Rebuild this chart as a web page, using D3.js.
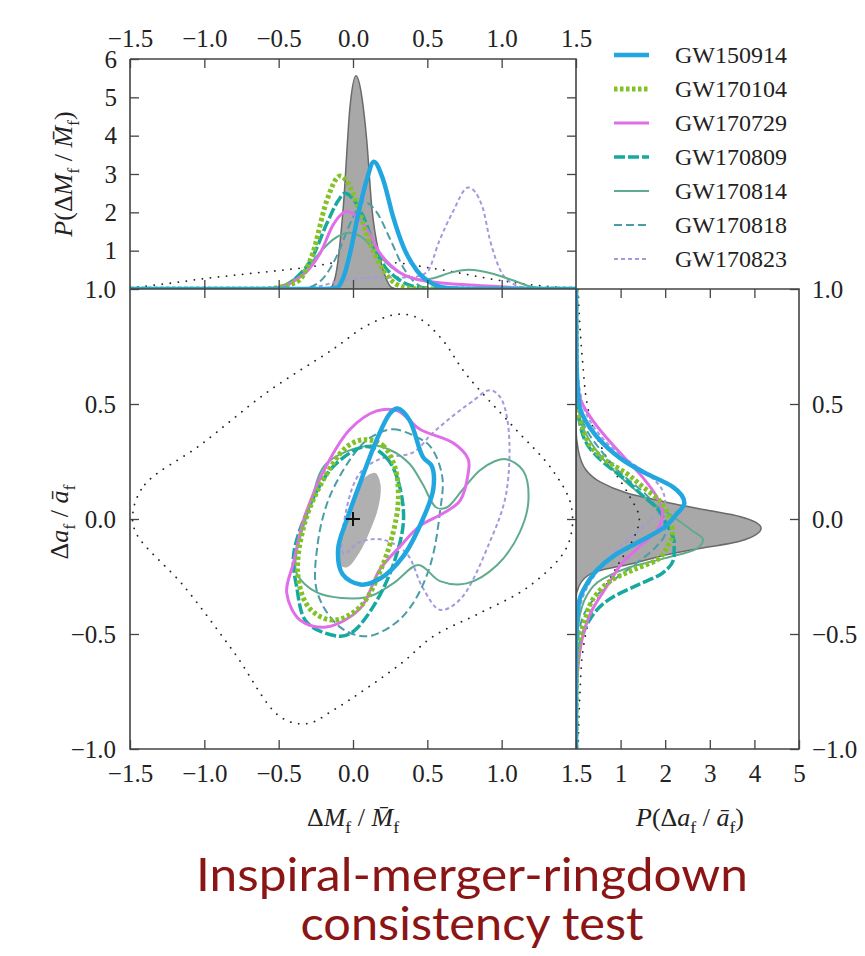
<!DOCTYPE html>
<html>
<head>
<meta charset="utf-8">
<script src="https://cdn.jsdelivr.net/npm/d3@7/dist/d3.min.js"></script>
<style>
  body { margin: 0; background: #fff; }
  svg { display: block; }
  .tick text { font-family: "Liberation Serif", "Times New Roman", Times, serif; font-size: 25px; fill: #222; }
  .tick line { stroke: #444; stroke-width: 1.3; }
</style>
</head>
<body>
<svg id="chart"></svg>
<script>
// ---------------- data ----------------
const events = ["GW150914", "GW170104", "GW170729", "GW170809", "GW170814", "GW170818", "GW170823"];

const xTicks = [-1.5, -1.0, -0.5, 0.0, 0.5, 1.0, 1.5];
const aTicks = [1.0, 0.5, 0.0, -0.5, -1.0];
const pTopTicks = [1, 2, 3, 4, 5, 6];
const pRightTicks = [1, 2, 3, 4, 5];

// top marginal: [dM/M, P]
const massPrior = [[-1.5,0.03],[-1.25,0.14],[-1.0,0.27],[-0.75,0.38],[-0.5,0.48],[-0.3,0.57],[-0.1,0.69],[0.1,0.71],[0.3,0.68],[0.5,0.56],[0.7,0.43],[0.9,0.28],[1.1,0.16],[1.3,0.07],[1.5,0.02]];
const massCombined = [[-1.5,0],[-0.16,0],[-0.12,0.3],[-0.065,2.15],[-0.02,4.76],[0.02,5.56],[0.06,5.0],[0.092,3.9],[0.126,2.15],[0.18,0.84],[0.22,0.3],[0.26,0.04],[0.3,0],[1.5,0]];
const mass150914 = [[-1.5,0],[-0.2,0],[-0.11,0.03],[-0.06,0.35],[-0.02,0.93],[0.036,1.97],[0.092,2.84],[0.14,3.32],[0.204,2.84],[0.27,1.88],[0.34,1.09],[0.43,0.48],[0.54,0.13],[0.65,0.02],[0.8,0],[1.5,0]];
const mass170104 = [[-1.5,0],[-0.6,0],[-0.5,0.04],[-0.42,0.12],[-0.356,0.25],[-0.27,0.94],[-0.177,2.3],[-0.087,2.95],[0.0,2.5],[0.09,1.45],[0.18,0.65],[0.29,0.13],[0.38,0.02],[0.5,0],[1.5,0]];
const mass170729 = [[-1.5,0],[-0.6,0],[-0.48,0.05],[-0.38,0.25],[-0.3,0.5],[-0.22,0.94],[-0.13,1.7],[-0.04,2.02],[0.07,1.7],[0.18,0.94],[0.32,0.42],[0.5,0.2],[0.76,0.11],[0.99,0.06],[1.21,0.01],[1.35,0],[1.5,0]];
const mass170809 = [[-1.5,0],[-0.6,0],[-0.48,0.05],[-0.38,0.3],[-0.27,0.85],[-0.177,1.7],[-0.1,2.3],[-0.054,2.5],[0.0,2.35],[0.07,1.88],[0.16,0.95],[0.22,0.55],[0.29,0.3],[0.38,0.1],[0.5,0.02],[0.6,0],[1.5,0]];
const mass170814 = [[-1.5,0],[-0.6,0],[-0.5,0.05],[-0.4,0.25],[-0.3,0.6],[-0.2,1.05],[-0.13,1.3],[-0.03,1.47],[0.06,1.35],[0.137,1.05],[0.22,0.7],[0.3,0.45],[0.38,0.3],[0.46,0.24],[0.54,0.28],[0.65,0.42],[0.78,0.5],[0.94,0.4],[1.08,0.22],[1.21,0.05],[1.35,0.01],[1.5,0]];
const mass170818 = [[-1.5,0],[-0.35,0],[-0.28,0.06],[-0.22,0.2],[-0.11,0.85],[-0.02,1.7],[0.07,2.28],[0.16,2.0],[0.25,1.3],[0.34,0.55],[0.43,0.13],[0.52,0.01],[0.6,0],[1.5,0]];
const mass170823 = [[-1.5,0],[-0.4,0],[-0.25,0.05],[-0.1,0.2],[0.05,0.28],[0.2,0.3],[0.33,0.3],[0.42,0.32],[0.5,0.45],[0.58,1.25],[0.67,2.0],[0.776,2.65],[0.87,2.15],[0.92,1.3],[0.99,0.5],[1.08,0.13],[1.18,0.02],[1.3,0],[1.5,0]];

// right marginal: [da/a, P]
const spinPrior = [[1.0,0.05],[0.9,0.07],[0.68,0.15],[0.5,0.25],[0.43,0.33],[0.3,0.6],[0.21,0.85],[0.1,1.2],[0.0,1.42],[-0.1,1.25],[-0.19,0.97],[-0.28,0.7],[-0.36,0.45],[-0.45,0.28],[-0.58,0.15],[-0.75,0.09],[-0.9,0.06],[-1.0,0.05]];
const spinCombined = [[1.0,0],[0.4,0],[0.3,0.05],[0.214,0.22],[0.16,0.55],[0.114,1.12],[0.07,2.1],[0.04,2.9],[0.011,3.67],[-0.04,4.15],[-0.097,3.67],[-0.134,2.6],[-0.163,1.87],[-0.19,1.35],[-0.234,0.37],[-0.29,0.07],[-0.35,0],[-1.0,0]];
const spin150914 = [[1.0,0],[0.7,0.01],[0.5,0.07],[0.4,0.3],[0.33,0.6],[0.25,1.1],[0.2,1.55],[0.14,2.17],[0.07,2.43],[0.02,2.25],[-0.04,1.95],[-0.1,1.4],[-0.16,0.85],[-0.22,0.48],[-0.29,0.22],[-0.35,0.08],[-0.45,0.02],[-0.6,0],[-1.0,0]];
const spin170104 = [[1.0,0],[0.6,0.01],[0.5,0.04],[0.4,0.14],[0.3,0.4],[0.25,0.7],[0.2,1.12],[0.14,1.5],[0.08,1.87],[0.0,2.1],[-0.06,2.17],[-0.12,2.05],[-0.18,1.8],[-0.22,1.3],[-0.26,0.85],[-0.33,0.45],[-0.44,0.2],[-0.55,0.06],[-0.7,0.01],[-1.0,0]];
const spin170729 = [[1.0,0],[0.7,0.01],[0.55,0.06],[0.43,0.37],[0.35,0.7],[0.26,1.12],[0.18,1.5],[0.1,1.8],[0.03,1.94],[-0.04,1.85],[-0.12,1.42],[-0.2,1.0],[-0.26,0.8],[-0.32,0.6],[-0.4,0.35],[-0.51,0.15],[-0.65,0.04],[-0.8,0],[-1.0,0]];
const spin170809 = [[1.0,0],[0.6,0.01],[0.5,0.03],[0.42,0.08],[0.31,0.3],[0.24,0.65],[0.17,1.12],[0.1,1.5],[0.05,1.8],[-0.03,2.05],[-0.1,2.2],[-0.16,2.2],[-0.235,1.94],[-0.29,1.35],[-0.34,0.82],[-0.44,0.3],[-0.58,0.07],[-0.75,0.01],[-1.0,0]];
const spin170814 = [[1.0,0],[0.6,0.01],[0.5,0.04],[0.4,0.15],[0.3,0.45],[0.2,0.9],[0.1,1.5],[0.02,2.1],[-0.05,2.6],[-0.09,2.85],[-0.13,2.7],[-0.17,2.0],[-0.21,1.2],[-0.26,0.6],[-0.33,0.25],[-0.45,0.06],[-0.6,0.01],[-1.0,0]];
const spin170818 = [[1.0,0],[0.6,0.02],[0.5,0.06],[0.4,0.2],[0.3,0.55],[0.2,1.0],[0.1,1.6],[0.0,1.95],[-0.06,2.0],[-0.12,1.8],[-0.2,1.3],[-0.28,0.75],[-0.36,0.35],[-0.46,0.1],[-0.6,0.02],[-0.8,0],[-1.0,0]];
const spin170823 = [[1.0,0],[0.7,0.02],[0.5,0.15],[0.4,0.4],[0.33,0.7],[0.25,1.2],[0.18,1.7],[0.12,1.95],[0.07,2.0],[0.0,1.7],[-0.06,1.35],[-0.12,1.0],[-0.2,0.6],[-0.28,0.3],[-0.36,0.12],[-0.45,0.04],[-0.6,0],[-1.0,0]];

// 90% contours in the main panel: [dM/M, da/a]
const contourPrior = [[-1.48,0.03],[-1.4,0.15],[-1.03,0.32],[-0.58,0.55],[-0.13,0.74],[0.09,0.84],[0.3,0.89],[0.45,0.87],[0.6,0.78],[0.76,0.63],[1.08,0.40],[1.345,0.21],[1.47,0.05],[1.44,-0.12],[1.19,-0.29],[0.85,-0.41],[0.54,-0.51],[0.32,-0.63],[-0.13,-0.83],[-0.31,-0.89],[-0.49,-0.86],[-0.8,-0.58],[-1.14,-0.29],[-1.46,-0.06]];
const contourCombined = [[0.15,0.2],[0.185,0.15],[0.17,0.05],[0.115,-0.05],[0.04,-0.15],[-0.04,-0.21],[-0.09,-0.2],[-0.1,-0.12],[-0.05,0.0],[0.02,0.11],[0.08,0.18]];
const contour150914 = [[0.25,0.46],[0.3,0.48],[0.38,0.43],[0.47,0.27],[0.53,0.23],[0.54,0.13],[0.47,0.0],[0.34,-0.16],[0.18,-0.26],[0.05,-0.285],[-0.07,-0.24],[-0.1,-0.13],[-0.04,0.0],[0.05,0.16],[0.16,0.345]];
const contour170104 = [[0.08,0.345],[0.2,0.32],[0.28,0.23],[0.305,0.12],[0.29,0.0],[0.2,-0.2],[0.05,-0.38],[-0.13,-0.44],[-0.29,-0.39],[-0.37,-0.25],[-0.33,-0.03],[-0.2,0.17],[-0.04,0.315]];
const contour170729 = [[0.16,0.47],[0.3,0.47],[0.45,0.39],[0.675,0.33],[0.775,0.26],[0.775,0.2],[0.72,0.08],[0.61,0.026],[0.45,-0.03],[0.316,-0.12],[0.18,-0.22],[0.047,-0.39],[-0.18,-0.47],[-0.356,-0.44],[-0.446,-0.32],[-0.4,-0.19],[-0.33,0.0],[-0.18,0.23],[-0.02,0.39]];
const contour170809 = [[0.09,0.315],[0.22,0.27],[0.294,0.185],[0.34,0.0],[0.27,-0.2],[0.137,-0.38],[0.0,-0.49],[-0.087,-0.51],[-0.31,-0.45],[-0.38,-0.29],[-0.4,-0.16],[-0.31,0.03],[-0.13,0.23]];
const contour170814 = [[0.114,0.32],[0.25,0.3],[0.38,0.24],[0.47,0.15],[0.56,0.05],[0.63,0.05],[0.74,0.13],[0.85,0.21],[0.95,0.25],[1.03,0.26],[1.145,0.21],[1.18,0.08],[1.12,-0.06],[0.97,-0.2],[0.765,-0.28],[0.585,-0.27],[0.44,-0.2],[0.27,-0.28],[0.09,-0.34],[-0.24,-0.32],[-0.38,-0.235],[-0.38,-0.15],[-0.29,0.055],[-0.18,0.24]];
const contour170818 = [[0.16,0.37],[0.27,0.39],[0.4,0.365],[0.52,0.315],[0.6,0.185],[0.585,0.03],[0.52,-0.2],[0.4,-0.37],[0.27,-0.46],[0.09,-0.51],[-0.087,-0.47],[-0.24,-0.32],[-0.24,-0.12],[-0.155,0.1],[0.047,0.315]];
const contour170823 = [[0.92,0.56],[0.8,0.51],[0.675,0.45],[0.53,0.37],[0.405,0.29],[0.18,0.26],[0.047,0.2],[-0.04,0.055],[-0.065,-0.15],[0.047,-0.1],[0.2,-0.09],[0.36,-0.15],[0.47,-0.3],[0.585,-0.395],[0.72,-0.35],[0.92,-0.1],[1.03,0.11],[1.045,0.4],[0.99,0.53]];

// ---------------- styles ----------------
const styles = {
  GW150914: { color: "#22a6e0", width: 4.5, dash: null },
  GW170104: { color: "#82c226", width: 5,   dash: "3.5,2.5" },
  GW170729: { color: "#e16ee9", width: 3,   dash: null },
  GW170809: { color: "#16a99f", width: 3.5, dash: "11,3" },
  GW170814: { color: "#5fab8e", width: 2,   dash: null },
  GW170818: { color: "#4a9da8", width: 2,   dash: "8,4" },
  GW170823: { color: "#a299de", width: 2,   dash: "4,3" }
};

const massSeries = [mass150914, mass170104, mass170729, mass170809, mass170814, mass170818, mass170823];
const spinSeries = [spin150914, spin170104, spin170729, spin170809, spin170814, spin170818, spin170823];
const contourSeries = [contour150914, contour170104, contour170729, contour170809, contour170814, contour170818, contour170823];
const drawOrder = [6, 5, 4, 3, 2, 1, 0];

// ---------------- layout ----------------
const W = 865, H = 956;
const svg = d3.select("#chart").attr("width", W).attr("height", H);
const serif = '"Liberation Serif", "Times New Roman", Times, serif';

const x = d3.scaleLinear().domain([-1.5, 1.5]).range([130, 576]);
const y = d3.scaleLinear().domain([-1, 1]).range([749, 289]);
const pTop = d3.scaleLinear().domain([0, 6]).range([289, 59]);
const pRight = d3.scaleLinear().domain([0, 5]).range([576, 799]);

const fmt1 = d3.format(".1f");

svg.append("defs").call(defs => {
  defs.append("clipPath").attr("id", "clipTop").append("rect")
    .attr("x", 130).attr("y", 59).attr("width", 446).attr("height", 230);
  defs.append("clipPath").attr("id", "clipMain").append("rect")
    .attr("x", 130).attr("y", 289).attr("width", 446).attr("height", 460);
  defs.append("clipPath").attr("id", "clipRight").append("rect")
    .attr("x", 576).attr("y", 289).attr("width", 223).attr("height", 460);
});

function styleLine(sel, s) {
  sel.attr("fill", "none")
    .attr("stroke", s.color)
    .attr("stroke-width", s.width)
    .attr("stroke-linejoin", "round")
    .attr("stroke-dasharray", s.dash);
}

// ---------- top panel ----------
const topG = svg.append("g").attr("clip-path", "url(#clipTop)");
const lineTop = d3.line().x(d => x(d[0])).y(d => pTop(d[1])).curve(d3.curveMonotoneX);
const areaTop = d3.area().x(d => x(d[0])).y0(pTop(0)).y1(d => pTop(d[1])).curve(d3.curveMonotoneX);

topG.append("path").datum(massPrior).attr("d", lineTop)
  .attr("fill", "none").attr("stroke", "#222").attr("stroke-width", 1.8)
  .attr("stroke-dasharray", "0.1,8").attr("stroke-linecap", "round");
topG.append("path").datum(massCombined).attr("d", areaTop)
  .attr("fill", "#a8a8a8").attr("stroke", "#6a6a6a").attr("stroke-width", 1.5);
drawOrder.forEach(i => {
  topG.append("path").datum(massSeries[i]).attr("d", lineTop).call(styleLine, styles[events[i]]);
});

// ---------- right panel ----------
const rightG = svg.append("g").attr("clip-path", "url(#clipRight)");
const lineRight = d3.line().y(d => y(d[0])).x(d => pRight(d[1])).curve(d3.curveMonotoneY);
const areaRight = d3.area().y(d => y(d[0])).x0(pRight(0)).x1(d => pRight(d[1])).curve(d3.curveMonotoneY);

rightG.append("path").datum(spinCombined).attr("d", areaRight)
  .attr("fill", "#a8a8a8").attr("stroke", "#6a6a6a").attr("stroke-width", 1.5);
rightG.append("path").datum(spinPrior).attr("d", lineRight)
  .attr("fill", "none").attr("stroke", "#222").attr("stroke-width", 1.8)
  .attr("stroke-dasharray", "0.1,8").attr("stroke-linecap", "round");
drawOrder.forEach(i => {
  rightG.append("path").datum(spinSeries[i]).attr("d", lineRight).call(styleLine, styles[events[i]]);
});

// ---------- main panel ----------
const mainG = svg.append("g").attr("clip-path", "url(#clipMain)");
const closed = d3.line().x(d => x(d[0])).y(d => y(d[1])).curve(d3.curveCatmullRomClosed.alpha(0.5));

mainG.append("path").datum(contourPrior).attr("d", closed)
  .attr("fill", "none").attr("stroke", "#222").attr("stroke-width", 1.8)
  .attr("stroke-dasharray", "0.1,8").attr("stroke-linecap", "round");
mainG.append("path").datum(contourCombined).attr("d", closed).attr("fill", "#b0b0b0");
drawOrder.forEach(i => {
  mainG.append("path").datum(contourSeries[i]).attr("d", closed).call(styleLine, styles[events[i]]);
});
mainG.append("path")
  .attr("d", `M${x(0) - 7},${y(0)}H${x(0) + 7}M${x(0)},${y(0) - 7}V${y(0) + 7}`)
  .attr("stroke", "#111").attr("stroke-width", 2);

// ---------- axes ----------
function axisG(axis, tx, ty) {
  const g = svg.append("g").attr("transform", `translate(${tx},${ty})`).call(axis);
  g.select(".domain").remove();
  return g;
}
const none = () => "";

// top panel
axisG(d3.axisTop(x).tickValues(xTicks).tickSize(-9).tickPadding(12).tickFormat(fmt1), 0, 59);
axisG(d3.axisBottom(x).tickValues(xTicks.slice(1, -1)).tickSize(-9).tickFormat(none), 0, 289);
axisG(d3.axisLeft(pTop).tickValues(pTopTicks).tickSize(-9).tickPadding(13).tickFormat(d3.format("d")), 130, 0);
axisG(d3.axisRight(pTop).tickValues(pTopTicks.slice(0, -1)).tickSize(-9).tickFormat(none), 576, 0);

// main panel
axisG(d3.axisTop(x).tickValues(xTicks.slice(1, -1)).tickSize(-9).tickFormat(none), 0, 289);
axisG(d3.axisBottom(x).tickValues(xTicks).tickSize(-9).tickPadding(15).tickFormat(fmt1), 0, 749);
axisG(d3.axisLeft(y).tickValues(aTicks).tickSize(-9).tickPadding(14).tickFormat(fmt1), 130, 0);
axisG(d3.axisRight(y).tickValues(aTicks.slice(1, -1)).tickSize(-9).tickFormat(none), 576, 0);

// right panel
axisG(d3.axisTop(pRight).tickValues(pRightTicks.slice(0, -1)).tickSize(-9).tickFormat(none), 0, 289);
axisG(d3.axisBottom(pRight).tickValues(pRightTicks).tickSize(-9).tickPadding(15).tickFormat(d3.format("d")), 0, 749);
axisG(d3.axisRight(y).tickValues(aTicks).tickSize(-9).tickPadding(13).tickFormat(fmt1), 799, 0);

// frames
const frame = d3.path();
frame.moveTo(130, 59); frame.lineTo(576, 59); frame.lineTo(576, 749);
frame.moveTo(130, 59); frame.lineTo(130, 749); frame.lineTo(799, 749); frame.lineTo(799, 289); frame.lineTo(130, 289);
svg.append("path").attr("d", frame.toString())
  .attr("fill", "none").attr("stroke", "#444").attr("stroke-width", 1.6);

// ---------- axis titles ----------
function mathText(parts, fs) {
  const t = svg.append("text").attr("font-family", serif).attr("font-size", fs).attr("fill", "#222");
  let cur = 0;
  parts.forEach(p => {
    const target = p.sub ? fs * 0.28 : 0;
    const ts = t.append("tspan").text(p.t).attr("dy", target - cur);
    cur = target;
    if (p.i) ts.attr("font-style", "italic");
    if (p.sub) ts.attr("font-size", fs * 0.68);
  });
  return t;
}

mathText([{ t: "Δ" }, { t: "M", i: true }, { t: "f", sub: true }, { t: " / " }, { t: "M\u0304", i: true }, { t: "f", sub: true }], 26)
  .attr("x", 353).attr("y", 826).attr("text-anchor", "middle");
mathText([{ t: "P", i: true }, { t: "(Δ" }, { t: "a", i: true }, { t: "f", sub: true }, { t: " / " }, { t: "ā", i: true }, { t: "f", sub: true }, { t: ")" }], 26)
  .attr("x", 690).attr("y", 826).attr("text-anchor", "middle");
mathText([{ t: "Δ" }, { t: "a", i: true }, { t: "f", sub: true }, { t: " / " }, { t: "ā", i: true }, { t: "f", sub: true }], 26)
  .attr("text-anchor", "middle").attr("transform", "translate(68,522) rotate(-90)");
mathText([{ t: "P", i: true }, { t: "(Δ" }, { t: "M", i: true }, { t: "f", sub: true }, { t: " / " }, { t: "M\u0304", i: true }, { t: "f", sub: true }, { t: ")" }], 26)
  .attr("text-anchor", "middle").attr("transform", "translate(72,174) rotate(-90)");

// ---------- legend ----------
const legend = svg.append("g").attr("transform", "translate(614,55)");
events.forEach((name, i) => {
  const row = legend.append("g").attr("transform", `translate(0,${i * 34})`);
  row.append("line").attr("x1", 0).attr("x2", 35).attr("y1", 0).attr("y2", 0)
    .call(styleLine, styles[name]);
  row.append("text").attr("x", 61).attr("y", 0).attr("dy", "0.35em")
    .attr("font-family", serif).attr("font-size", 24).attr("fill", "#222").text(name);
});

// ---------- caption ----------
const caption = ["Inspiral-merger-ringdown", "consistency test"];
const captionWidth = [552, 343];
caption.forEach((line, i) => {
  svg.append("text")
    .attr("x", 472).attr("y", 891 + i * 49)
    .attr("text-anchor", "middle")
    .attr("font-family", "Lato, 'Open Sans', sans-serif")
    .attr("font-size", 47)
    .attr("fill", "#8b1515")
    .attr("textLength", captionWidth[i])
    .attr("lengthAdjust", "spacingAndGlyphs")
    .text(line);
});
</script>
</body>
</html>
